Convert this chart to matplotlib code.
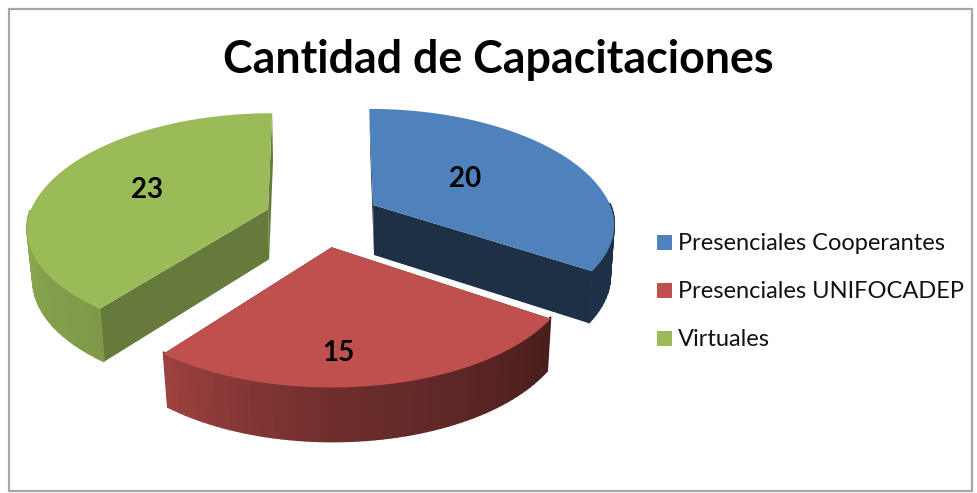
import numpy as np
import matplotlib
matplotlib.use('Agg')
import matplotlib.pyplot as plt
from matplotlib.patches import Polygon, Rectangle
from matplotlib.colors import to_rgb

plt.rcParams['font.family'] = ['Lato', 'DejaVu Sans']

title = 'Cantidad de Capacitaciones'
categories = ['Presenciales Cooperantes', 'Presenciales UNIFOCADEP', 'Virtuales']
values = [20, 15, 23]
colors = ['#4F81BD', '#C0504D', '#9BBB59']

# pie geometry in pixels, the figure is one big axes
cx, cy = 322.4, 218.6
ex, ey = 57.3, 29.0
rx, ry, persp = 237.0, 114.0, 0.186
lean = 0.00077
depth = 50.0
face_shade = [0.37, 0.37, 0.66]
label_pos = [(465, 179), (338, 353), (147, 190)]

shade_ang = [0, 90, 124, 180, 217, 270, 360]
shade_val = [0.37, 0.37, 0.38, 0.58, 0.82, 0.9, 0.9]


def rim(theta, dx, dy):
    # theta in degrees, clockwise from the back of the pie
    t = np.radians(theta)
    c = -np.cos(t)
    s = 1 / (1 - persp * c)
    y = ry * c * s
    x = rx * np.sin(t) * s + lean * dx * np.minimum(y, 0)
    # slices pushed to the back look a bit flatter at the front
    y = np.where(y > 0, y * (0.95 + 0.0018 * dy), y)
    return x, y


def shaded(col, k):
    return tuple(v * k for v in to_rgb(col))


fig = plt.figure(figsize=(9.77, 4.93), dpi=100)
ax = fig.add_axes([0, 0, 1, 1])
ax.set_xlim(0, 977)
ax.set_ylim(493, 0)
ax.axis('off')

ax.add_patch(Rectangle((8.5, 8.5), 963, 482, fc='white', ec='#a6a6a6', lw=1.6))

total = sum(values)
starts = np.cumsum([0] + values[:-1]) / total * 360
ends = np.cumsum(values) / total * 360

# back slices first, red is in front
for i in [2, 0, 1]:
    col = colors[i]
    mid = np.radians((starts[i] + ends[i]) / 2)
    ax0 = cx + ex * np.sin(mid)
    ay0 = cy - ey * np.cos(mid)

    th = np.linspace(starts[i], ends[i], 60)
    x, y = rim(th, ax0 - cx, ay0 - cy)
    xt, yt = ax0 + x, ay0 + y
    xb, yb = ax0 + 0.98 * x + 1, ay0 + 1.03 * y + depth

    # the two cut faces go under the wall
    for j in [0, -1]:
        quad = [(ax0, ay0), (xt[j], yt[j]), (xb[j], yb[j]), (ax0 + 1, ay0 + depth)]
        ax.add_patch(Polygon(quad, fc=shaded(col, face_shade[i]), ec='none', zorder=2))

    # outer wall, one strip per step so the shade can change
    # strip top goes under the top surface so no gap or stub shows
    k = np.interp(th, shade_ang, shade_val)
    off = np.where(y < 0, 2, -2)
    for j in range(len(th) - 1):
        if y[j] < -10 and y[j + 1] < -10:
            continue  # hidden behind the top
        quad = [(xt[j], yt[j] + off[j]), (xt[j + 1], yt[j + 1] + off[j + 1]), (xb[j + 1], yb[j + 1]), (xb[j], yb[j])]
        c = shaded(col, k[j])
        ax.add_patch(Polygon(quad, fc=c, ec=c, lw=1.0, zorder=2))

    top = [(ax0, ay0)] + list(zip(xt, yt))
    ax.add_patch(Polygon(top, fc=col, ec='none', zorder=3))

for v, (lx, ly) in zip(values, label_pos):
    ax.text(lx, ly, str(v), ha='center', va='center', fontsize=20, fontweight='bold', color='black', zorder=5)

ax.text(498, 60, title, ha='center', va='center', fontsize=32.2, fontweight='bold', color='black')

for i, name in enumerate(categories):
    ly = 243 + 48 * i
    ax.add_patch(Rectangle((657, ly - 8), 15, 15, fc=colors[i], ec='none'))
    ax.text(678, ly + 1, name, ha='left', va='center', fontsize=17, color='#111111')

fig.savefig('out.png', dpi=100)
